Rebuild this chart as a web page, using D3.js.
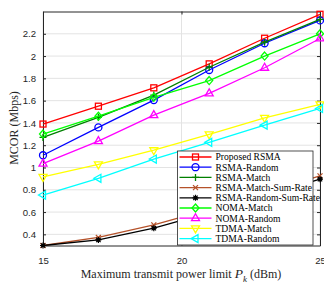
<!DOCTYPE html>
<html>
<head>
<meta charset="utf-8">
<script src="https://cdn.jsdelivr.net/npm/d3@7"></script>
<style>
  body { margin: 0; background: #fff; }
  svg { display: block; }
</style>
</head>
<body>
<svg id="chart" width="324" height="287"></svg>
<script>
// power levels (dBm)
const powerLevels = [15, 17, 19, 21, 23, 25];
const xTicks = [15, 20, 25];
const yTicks = [0.4, 0.6, 0.8, 1.0, 1.2, 1.4, 1.6, 1.8, 2.0, 2.2];

const proposedRsma = [1.39, 1.55, 1.715, 1.93, 2.16, 2.375];
const rsmaRandom = [1.11, 1.36, 1.605, 1.875, 2.115, 2.32];
const rsmaMatch = [1.27, 1.45, 1.65, 1.90, 2.125, 2.33];
const rsmaMatchSumRate = [0.30, 0.372, 0.485, 0.625, 0.775, 0.925];
const rsmaRandomSumRate = [0.30, 0.35, 0.455, 0.595, 0.745, 0.895];
const nomaMatch = [1.30, 1.46, 1.63, 1.78, 2.00, 2.20];
const nomaRandom = [1.035, 1.237, 1.47, 1.665, 1.895, 2.158];
const tdmaMatch = [0.915, 1.028, 1.155, 1.297, 1.446, 1.566];
const tdmaRandom = [0.753, 0.903, 1.076, 1.226, 1.38, 1.53];

const seriesNames = ["Proposed RSMA", "RSMA-Random", "RSMA-Match", "RSMA-Match-Sum-Rate",
  "RSMA-Random-Sum-Rate", "NOMA-Match", "NOMA-Random", "TDMA-Match", "TDMA-Random"];
const seriesValues = [proposedRsma, rsmaRandom, rsmaMatch, rsmaMatchSumRate,
  rsmaRandomSumRate, nomaMatch, nomaRandom, tdmaMatch, tdmaRandom];
const seriesColours = ["#ff0000", "#0000ff", "#008000", "#b5522a", "#000000",
  "#00ff00", "#ff00ff", "#ffff00", "#00ffff"];
const seriesMarkers = ["square", "circle", "plus", "cross", "star", "diamond", "triUp", "triDown", "triLeft"];

const svg = d3.select("#chart");
const plotLeft = 43, plotRight = 320, plotTop = 11.5, plotBottom = 245.5;

const xScale = d3.scaleLinear().domain([15, 25]).range([plotLeft, plotRight]);
const yScale = d3.scaleLinear().domain([0.3, 2.4]).range([plotBottom, plotTop]);

// grid
const grid = svg.append("g").attr("stroke", "#e3e3e3").attr("stroke-width", 1);
yTicks.forEach(t => {
  grid.append("line").attr("x1", plotLeft).attr("x2", plotRight)
      .attr("y1", yScale(t)).attr("y2", yScale(t));
});
xTicks.forEach(t => {
  grid.append("line").attr("x1", xScale(t)).attr("x2", xScale(t))
      .attr("y1", plotTop).attr("y2", plotBottom);
});

// axes
const axisColour = "#262626";
const xAxis = svg.append("g")
  .attr("transform", `translate(0,${plotBottom})`)
  .call(d3.axisBottom(xScale).tickValues(xTicks).tickSizeInner(-3).tickSizeOuter(0).tickPadding(12).tickFormat(d3.format("d")));
const yAxis = svg.append("g")
  .attr("transform", `translate(${plotLeft},0)`)
  .call(d3.axisLeft(yScale).tickValues(yTicks).tickSizeInner(-3).tickSizeOuter(0).tickPadding(7)
    .tickFormat(d => d === 1 ? "1" : d === 2 ? "2" : d3.format(".1f")(d)));
const xTop = svg.append("g")
  .attr("transform", `translate(0,${plotTop})`)
  .call(d3.axisTop(xScale).tickValues(xTicks).tickSizeInner(-3).tickSizeOuter(0).tickFormat(""));
const yRight = svg.append("g")
  .attr("transform", `translate(${plotRight},0)`)
  .call(d3.axisRight(yScale).tickValues(yTicks).tickSizeInner(-3).tickSizeOuter(0).tickFormat(""));

[xAxis, yAxis, xTop, yRight].forEach(a => {
  a.select(".domain").attr("stroke", axisColour).attr("stroke-width", 1);
  a.selectAll(".tick line").attr("stroke", axisColour);
  a.selectAll("text").attr("fill", axisColour)
    .style("font-family", "'Liberation Sans', Arial, sans-serif").style("font-size", "9.6px");
});

function drawMarker(g, type, x, y, colour) {
  const s = 3;
  if (type === "square") {
    g.append("rect").attr("x", x - s).attr("y", y - s).attr("width", 2 * s).attr("height", 2 * s)
      .attr("fill", "none").attr("stroke", colour);
  } else if (type === "circle") {
    g.append("circle").attr("cx", x).attr("cy", y).attr("r", 3.5).attr("fill", "none").attr("stroke", colour);
  } else if (type === "plus") {
    g.append("path").attr("d", `M${x - 3.5},${y}H${x + 3.5}M${x},${y - 3.5}V${y + 3.5}`).attr("stroke", colour);
  } else if (type === "cross") {
    g.append("path").attr("d", `M${x - 2.5},${y - 2.5}L${x + 2.5},${y + 2.5}M${x - 2.5},${y + 2.5}L${x + 2.5},${y - 2.5}`).attr("stroke", colour);
  } else if (type === "star") {
    // small filled asterisk like MATLAB '*' at low resolution
    g.append("path").attr("d", `M${x - 3},${y}H${x + 3}M${x},${y - 3}V${y + 3}M${x - 2.2},${y - 2.2}L${x + 2.2},${y + 2.2}M${x - 2.2},${y + 2.2}L${x + 2.2},${y - 2.2}`)
      .attr("stroke", colour).attr("stroke-width", 1.2);
    g.append("circle").attr("cx", x).attr("cy", y).attr("r", 1.8).attr("fill", colour);
  } else if (type === "diamond") {
    g.append("path").attr("d", `M${x},${y - 4}L${x + 3.5},${y}L${x},${y + 4}L${x - 3.5},${y}Z`)
      .attr("fill", "none").attr("stroke", colour);
  } else if (type === "triUp") {
    g.append("path").attr("d", `M${x},${y - 4.5}L${x + 4},${y + 2.5}L${x - 4},${y + 2.5}Z`)
      .attr("fill", "none").attr("stroke", colour);
  } else if (type === "triDown") {
    g.append("path").attr("d", `M${x},${y + 4.5}L${x + 4},${y - 2.5}L${x - 4},${y - 2.5}Z`)
      .attr("fill", "none").attr("stroke", colour);
  } else if (type === "triLeft") {
    g.append("path").attr("d", `M${x - 4.5},${y}L${x + 2.5},${y - 4}L${x + 2.5},${y + 4}Z`)
      .attr("fill", "none").attr("stroke", colour);
  }
}

// lines
const line = d3.line().x((d, i) => xScale(powerLevels[i])).y(d => yScale(d));
const plot = svg.append("g");
seriesValues.forEach((vals, k) => {
  const g = plot.append("g").attr("stroke-width", 1.3);
  g.append("path").attr("d", line(vals)).attr("fill", "none")
    .attr("stroke", seriesColours[k]).attr("stroke-width", 1.3);
  vals.forEach((v, i) => drawMarker(g, seriesMarkers[k], xScale(powerLevels[i]), yScale(v), seriesColours[k]));
});

// legend
const legX = 177.5, legY = 151, legW = 135.5, legH = 94, rowH = 10.2;
const legend = svg.append("g");
legend.append("rect").attr("x", legX).attr("y", legY).attr("width", legW).attr("height", legH)
  .attr("fill", "#fff").attr("stroke", axisColour).attr("stroke-width", 0.8);
seriesNames.forEach((name, k) => {
  const y = legY + 6 + k * rowH;
  const g = legend.append("g").attr("stroke-width", 1.3);
  g.append("line").attr("x1", legX + 2).attr("x2", legX + 34).attr("y1", y).attr("y2", y)
    .attr("stroke", seriesColours[k]);
  drawMarker(g, seriesMarkers[k], legX + 18, y, seriesColours[k]);
  legend.append("text").attr("x", legX + 38).attr("y", y + 3.4).text(name)
    .style("font-family", "'Liberation Serif', 'Times New Roman', serif").style("font-size", "9.6px")
    .attr("fill", "#000");
});

// axis labels
svg.append("text").attr("x", 181).attr("y", 278).attr("text-anchor", "middle")
  .style("font-family", "'Liberation Serif', 'Times New Roman', serif").style("font-size", "12px")
  .attr("fill", "#262626")
  .html("Maximum transmit power limit <tspan font-style='italic' font-size='13.5px'>P</tspan><tspan font-size='9px' dy='4' font-style='italic'>k</tspan><tspan dy='-4'>  (dBm)</tspan>");

svg.append("text").attr("transform", "translate(18,128) rotate(-90)").attr("text-anchor", "middle")
  .style("font-family", "'Liberation Serif', 'Times New Roman', serif").style("font-size", "12px")
  .attr("fill", "#262626").text("MCOR (Mbps)");
</script>
</body>
</html>
